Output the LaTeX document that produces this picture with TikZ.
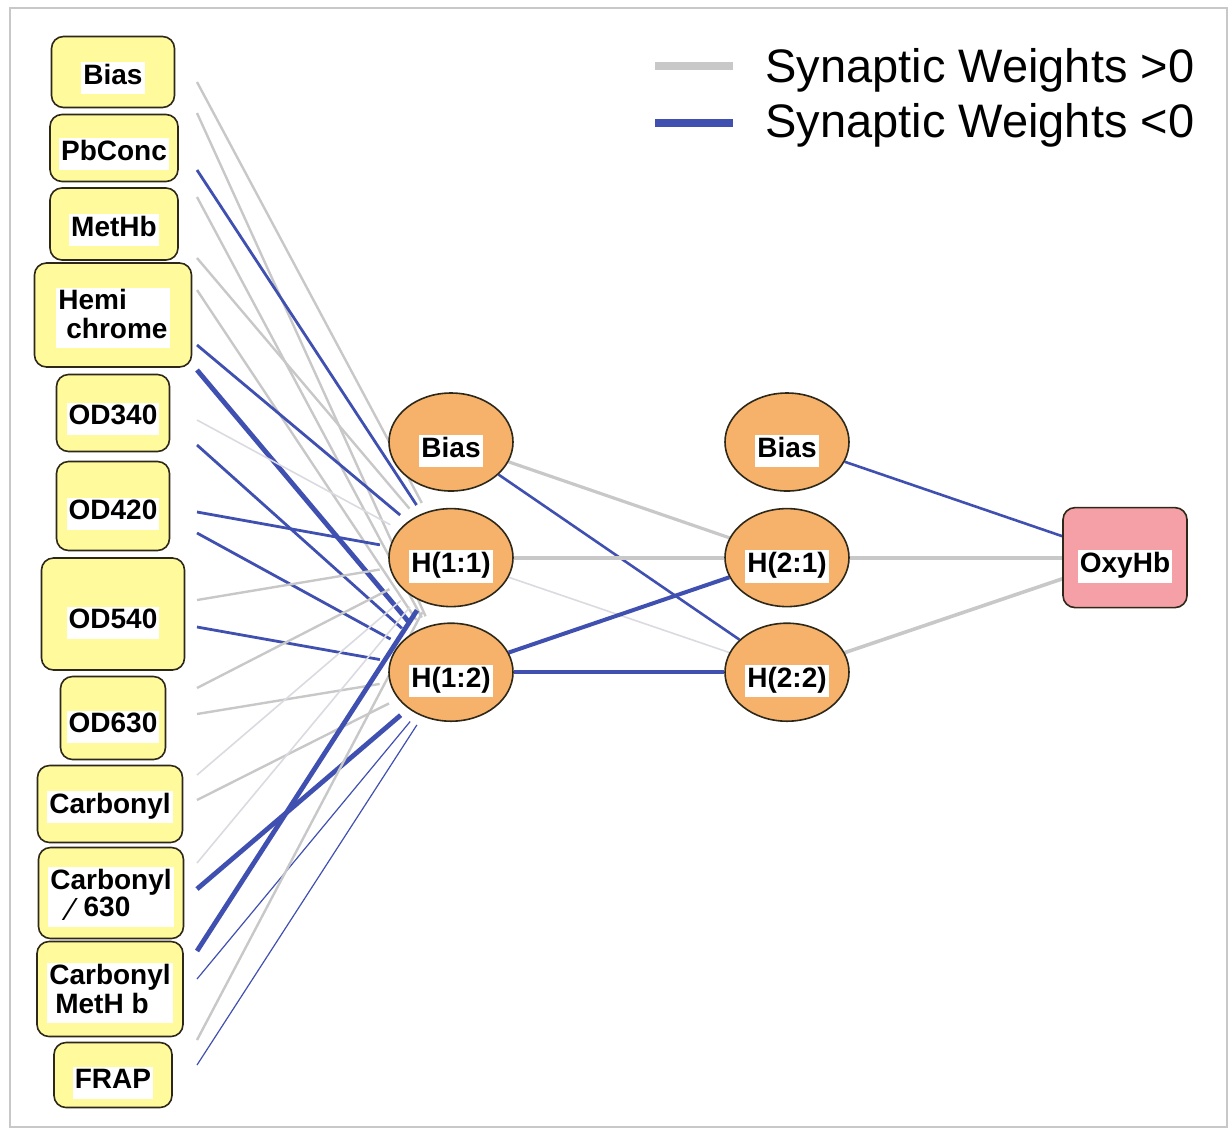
\documentclass[tikz,border=0pt]{standalone}
\usepackage{fontspec}
\setmainfont{Liberation Sans}
\usetikzlibrary{shapes,positioning,backgrounds,calc}
\definecolor{nnyellow}{RGB}{255,250,155}
\definecolor{nnorange}{RGB}{246,178,107}
\definecolor{nnpink}{RGB}{244,160,166}
\definecolor{nnedge}{RGB}{45,40,25}
\definecolor{posgray}{RGB}{200,200,200}
\definecolor{posgraylight}{RGB}{218,218,224}
\definecolor{negblue}{RGB}{64,80,176}
\definecolor{framegray}{RGB}{200,200,200}
\newcommand{\wl}[2][3pt]{\raisebox{-#1}[\height][\depth]{\setlength{\fboxsep}{1pt}\colorbox{white}{\renewcommand{\arraystretch}{0.8}\begin{tabular}{@{}l@{}}#2\end{tabular}}}}
\tikzset{
    inbox/.style={rectangle, draw=nnedge, line width=0.8pt, fill=nnyellow, rounded corners=6pt, inner sep=0pt, font=\bfseries\fontsize{14}{16.8}\selectfont},
    hid/.style={ellipse, draw=nnedge, line width=0.8pt, fill=nnorange, minimum width=62pt, minimum height=49pt, inner sep=0pt, font=\bfseries\fontsize{14}{16.8}\selectfont},
    outbox/.style={inbox, fill=nnpink, minimum width=62pt, minimum height=50pt},
    wgray/.style={draw=posgray, line width=1.2pt},
    wgrayl/.style={draw=posgraylight, line width=0.8pt},
    wblue/.style={draw=negblue, line width=1.4pt},
    wbluebold/.style={draw=negblue, line width=2.4pt},
    wbluethin/.style={draw=negblue, line width=0.6pt},
    legtext/.style={anchor=base west, inner sep=0pt, font=\fontsize{23.5}{28}\selectfont}
}

\begin{document}
\begin{tikzpicture}[x=0.5pt, y=-0.5pt]
    \useasboundingbox (0,0) rectangle (1230,1131);
    \draw [framegray, line width=1pt] (10,8) rectangle (1227,1127);

    % Input Layer
    \node [inbox, minimum width=61.5pt, minimum height=35.5pt] (bias) at (113,72) {\wl{Bias}};
    \node [inbox, minimum width=64pt, minimum height=33.5pt] (pbconc) at (114,148) {\wl{PbConc}};
    \node [inbox, minimum width=64pt, minimum height=36pt] (methb) at (114,224) {\wl{MetHb}};
    \node [inbox, minimum width=78.5pt, minimum height=52pt] (hemi) at (113,315) {\wl[1.5pt]{Hemi\\\hspace{4pt}chrome}};
    \node [inbox, minimum width=56.5pt, minimum height=38.5pt] (od340) at (113,413) {\wl{OD340}};
    \node [inbox, minimum width=56.5pt, minimum height=44.5pt] (od420) at (113,506) {\wl[4pt]{OD420}};
    \node [inbox, minimum width=71.5pt, minimum height=56pt] (od540) at (113,614) {\wl[4.5pt]{OD540}};
    \node [inbox, minimum width=52.5pt, minimum height=41.5pt] (od630) at (113,718) {\wl[4.5pt]{OD630}};
    \node [inbox, minimum width=72.5pt, minimum height=38.5pt] (carb) at (110,804) {\wl[1.5pt]{Carbonyl}};
    \node [inbox, minimum width=72.5pt, minimum height=45.5pt] (carb630) at (111,893) {\wl[2pt]{Carbonyl\\\hspace{9pt}\smash{\raisebox{-2pt}{\mdseries\fontsize{16}{16}\selectfont ⁄}}\hspace{5pt}630}};
    \node [inbox, minimum width=73pt, minimum height=47.5pt] (carbmet) at (110,989) {\wl[2pt]{Carbonyl\\\hspace{3pt}MetH b}};
    \node [inbox, minimum width=59pt, minimum height=32.5pt] (frap) at (113,1075) {\wl[4pt]{FRAP}};

    % Hidden Layer 1
    \node [hid] (b1) at (451,442) {\wl[4.5pt]{Bias}};
    \node [hid, below=8pt of b1] (h11) {\wl[4.5pt]{H(1:1)}};
    \node [hid, below=7.5pt of h11] (h12) {\wl[4.5pt]{H(1:2)}};

    % Hidden Layer 2
    \node [hid] (b2) at ([shift={(336,0)}]b1) {\wl[4.5pt]{Bias}};
    \node [hid, below=8pt of b2] (h21) {\wl[4.5pt]{H(2:1)}};
    \node [hid, below=7.5pt of h21] (h22) {\wl[4.5pt]{H(2:2)}};

    % Output Layer
    \node [outbox] (oxyhb) at ([shift={(338,0)}]h21) {\wl[4.5pt]{OxyHb}};

    % Legend
    \node [legtext] (legpos) at (765,82) {Synaptic Weights >0};
    \node [legtext] (legneg) at (765,137) {Synaptic Weights <0};
    \coordinate (swpos) at (655,66);
    \coordinate (swneg) at (655,123);
    \path [draw=posgray, line width=4pt] (swpos) -- ++(78,0);
    \path [draw=negblue, line width=4pt] (swneg) -- ++(78,0);

    % Connections
    \coordinate (gx) at (197,0);
    \begin{scope}[on background layer]
    \foreach \n/\da/\sa/\db/\sb in {bias/10/wgray/41/wgray, pbconc/22/wblue/49/wgray,
        methb/34/wgray/66/wgray, hemi/30/wblue/55/wbluebold, od340/7/wgrayl/32/wblue,
        od420/6/wblue/27/wblue, od540/-14/wgray/13/wblue, od630/-30/wgray/-4/wgray,
        carb/-29/wgrayl/-4/wgray, carb630/-30/wgrayl/-4/wbluebold,
        carbmet/-38/wbluebold/-10/wbluethin, frap/-35/wgray/-10/wbluethin}{
        \path [\sa, shorten >=5pt] (\n.east -| gx) ++(0,\da) -- (h11);
        \path [\sb, shorten >=5pt] (\n.east -| gx) ++(0,\db) -- (h12);
    }
    \path [wgray, line width=1.6pt] (b1) -- (h21);
    \path [wblue, line width=1.3pt] (b1) -- (h22);
    \path [wgray, line width=2pt] (h11) -- (h21);
    \path [wgrayl] (h11) -- (h22);
    \path [wblue, line width=2pt] (h12) -- (h21);
    \path [wblue, line width=1.8pt] (h12) -- (h22);
    \path [wblue, line width=1.3pt] (b2) -- (oxyhb);
    \path [wgray, line width=2pt] (h21) -- (oxyhb);
    \path [wgray, line width=1.8pt] (h22) -- (oxyhb);
    \end{scope}
\end{tikzpicture}
\end{document}
